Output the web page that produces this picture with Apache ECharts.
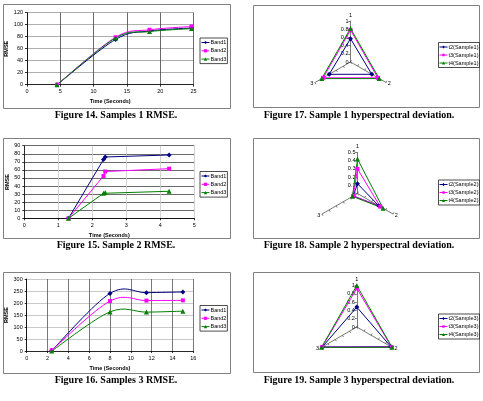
<!DOCTYPE html>
<html><head><meta charset="utf-8">
<script src="https://cdn.jsdelivr.net/npm/echarts@6/dist/echarts.min.js"></script>
<style>html,body{margin:0;padding:0;background:#fff}#c{width:483px;height:401px}</style>
</head><body><div id="c"></div>
<script>
// ---- Line chart data (RMSE) ----
const fig14X = [4.5, 13.3, 18.4, 24.7];
const fig14Band1 = [0, 75.5, 89.5, 94.5];
const fig14Band2 = [0, 79, 91.5, 97];
const fig14Band3 = [0, 78, 88.5, 93.5];

const fig15X = [1.3, 2.33, 2.38, 4.26];
const fig15Band1 = [0, 73, 76, 78.5];
const fig15Band2 = [0, 52.5, 58, 61.5];
const fig15Band3 = [0, 31, 32, 33.5];

const fig16X = [2.4, 8.0, 11.5, 15.0];
const fig16Band1 = [2, 240, 243, 246];
const fig16Band2 = [3, 208, 210, 211];
const fig16Band3 = [0, 163, 162, 166];

const bandNames = ['Band1', 'Band2', 'Band3'];

// ---- Radar data (hyperspectral deviation), categories 1,2,3 ----
const radarCats = ['1', '2', '3'];
const fig17T2 = [0.57, 0.6, 0.6];
const fig17T3 = [0.78, 0.77, 0.77];
const fig17T4 = [0.82, 0.81, 0.81];
const fig18T2 = [0.12, 0.30, 0.06];
const fig18T3 = [0.30, 0.32, 0.06];
const fig18T4 = [0.42, 0.36, 0.07];
const fig19T2 = [0.48, 0.95, 0.96];
const fig19T3 = [0.93, 0.97, 0.97];
const fig19T4 = [1.0, 0.98, 0.98];

const captions = [
  'Figure 14. Samples 1 RMSE.', 'Figure 17. Sample 1 hyperspectral deviation.',
  'Figure 15. Sample 2 RMSE.', 'Figure 18. Sample 2 hyperspectral deviation.',
  'Figure 16. Samples 3 RMSE.', 'Figure 19. Sample 3 hyperspectral deviation.'
];

const colors = ['#000080', '#FF00FF', '#008000'];
const symbols = ['diamond', 'rect', 'triangle'];
const symSizes = [5, 4, 5];
const legendIcons = [
  'path://M0,4.8L24,4.8L24,7.2L0,7.2Z M12,1.5L16.5,6L12,10.5L7.5,6Z',
  'path://M0,4.8L24,4.8L24,7.2L0,7.2Z M8.5,2.5L15.5,2.5L15.5,9.5L8.5,9.5Z',
  'path://M0,4.8L24,4.8L24,7.2L0,7.2Z M12,1.5L16.5,10.5L7.5,10.5Z'
];
const SANS = 'Liberation Sans';
const FS = 5.5;

const lineCharts = [
  {x: fig14X, bands: [fig14Band1, fig14Band2, fig14Band3], xmax: 25, xint: 5, ymax: 120, yint: 20,
   grid: {left: 27, top: 12.7, width: 166.5, height: 72}, vCol: '#444', hCol: '#999', smooth: true, legendTop: 38},
  {x: fig15X, bands: [fig15Band1, fig15Band2, fig15Band3], xmax: 5, xint: 1, ymax: 90, yint: 10,
   grid: {left: 24.3, top: 145.7, width: 170, height: 72.6}, vCol: '#c8c8c8', hCol: '#444', smooth: false, legendTop: 171.5},
  {x: fig16X, bands: [fig16Band1, fig16Band2, fig16Band3], xmax: 16, xint: 2, ymax: 300, yint: 50,
   grid: {left: 26.7, top: 279, width: 166.6, height: 72}, vCol: '#555', hCol: '#bbb', smooth: true, legendTop: 305.5}
];

const radars = [
  {center: [350.5, 62], radius: 41, max: 1, data: [fig17T2, fig17T3, fig17T4], suffix: 'Sample1', legendTop: 42.5},
  {center: [357.5, 193.5], radius: 41, max: 0.5, data: [fig18T2, fig18T3, fig18T4], suffix: 'Sample2', legendTop: 180},
  {center: [356.8, 327], radius: 41.5, max: 1, data: [fig19T2, fig19T3, fig19T4], suffix: 'Sample3', legendTop: 314}
];

const grids = [], xAxes = [], yAxes = [], series = [], legends = [], radarOpts = [];
const axisText = {fontSize: FS, color: '#000', fontFamily: SANS};
const legendBase = {
  orient: 'vertical', itemWidth: 8, itemHeight: 4, itemGap: 2.3, padding: [1.5, 1, 1.5, 1],
  borderColor: '#000', borderWidth: 0.7, backgroundColor: '#fff', selectedMode: false,
  textStyle: {fontSize: FS, fontFamily: SANS, color: '#000', padding: [0, 0, 0, -4]}
};

// Excel-like smoothed line (Catmull-Rom Bezier), positions from the axes via api.coord
function smoothRenderer(xs, ys, color) {
  return function (params, api) {
    if (params.dataIndex !== 0) return null;
    const p = xs.map((xv, k) => api.coord([xv, ys[k]]));
    let d = 'M' + p[0][0] + ',' + p[0][1];
    for (let i = 0; i < p.length - 1; i++) {
      const p0 = p[i - 1] || p[i], p1 = p[i], p2 = p[i + 1], p3 = p[i + 2] || p[i + 1];
      const c1 = [p1[0] + (p2[0] - p0[0]) / 6, p1[1] + (p2[1] - p0[1]) / 6];
      const c2 = [p2[0] - (p3[0] - p1[0]) / 6, p2[1] - (p3[1] - p1[1]) / 6];
      d += ' C' + c1[0] + ',' + c1[1] + ' ' + c2[0] + ',' + c2[1] + ' ' + p2[0] + ',' + p2[1];
    }
    return {type: 'path', shape: {pathData: d}, style: {stroke: color, fill: null, lineWidth: 1}};
  };
}

lineCharts.forEach((lc, i) => {
  grids.push(lc.grid);
  xAxes.push({
    type: 'value', gridIndex: i, min: 0, max: lc.xmax, interval: lc.xint,
    name: 'Time (Seconds)', nameLocation: 'middle', nameGap: 14,
    nameTextStyle: {fontSize: FS, fontWeight: 'bold', fontFamily: SANS, color: '#000'},
    axisLine: {lineStyle: {color: '#000', width: 0.8}},
    axisTick: {show: true, length: 2, lineStyle: {color: '#000', width: 0.8}},
    axisLabel: Object.assign({margin: 4}, axisText),
    splitLine: {show: true, lineStyle: {color: lc.vCol, width: 0.8}}
  });
  yAxes.push({
    type: 'value', gridIndex: i, min: 0, max: lc.ymax, interval: lc.yint,
    name: 'RMSE', nameLocation: 'middle', nameGap: 12.5, nameRotate: 90,
    nameTextStyle: {fontSize: FS, fontWeight: 'bold', fontFamily: SANS, color: '#000'},
    axisLine: {show: true, lineStyle: {color: '#000', width: 0.8}},
    axisTick: {show: true, length: 2, lineStyle: {color: '#000', width: 0.8}},
    axisLabel: Object.assign({margin: 4}, axisText),
    splitLine: {show: true, lineStyle: {color: lc.hCol, width: 0.8}}
  });
  lc.bands.forEach((vals, b) => {
    const pts = lc.x.map((xv, k) => [xv, vals[k]]);
    if (lc.smooth) {
      series.push({
        type: 'custom', coordinateSystem: 'cartesian2d', xAxisIndex: i, yAxisIndex: i,
        data: pts, renderItem: smoothRenderer(lc.x, vals, colors[b]), z: 2 + b, silent: true
      });
    }
    series.push({
      type: 'line', name: bandNames[b], xAxisIndex: i, yAxisIndex: i,
      data: pts, smooth: false, symbol: symbols[b], symbolSize: symSizes[b], showSymbol: true,
      itemStyle: {color: colors[b]},
      lineStyle: {color: colors[b], width: 1, opacity: lc.smooth ? 0 : 1},
      z: 5 + b
    });
  });
  legends.push(Object.assign({}, legendBase, {
    data: bandNames, left: 200, top: lc.legendTop,
    lineStyle: {opacity: 1, width: 1}
  }));
});

// ECharts places indicators counter-clockwise; Excel goes clockwise -> order 1,3,2
const order = [0, 2, 1];
radars.forEach((r, i) => {
  radarOpts.push({
    center: r.center, radius: r.radius, startAngle: 90, splitNumber: 5, shape: 'polygon',
    indicator: order.map(k => ({name: radarCats[k], min: 0, max: r.max, axisLabel: {show: k === 0}})),
    axisName: {color: '#000', fontSize: FS, fontFamily: SANS},
    nameGap: 2,
    axisLine: {lineStyle: {color: '#555', width: 0.8}},
    axisTick: {show: true, length: 2, lineStyle: {color: '#555', width: 0.8}},
    axisLabel: {show: false, fontSize: FS, color: '#000', fontFamily: SANS, margin: 2,
      formatter: v => String(Math.round(v * 100) / 100)},
    splitLine: {show: false}, splitArea: {show: false}
  });
  const names = ['t2', 't3', 't4'].map(t => t + '(' + r.suffix + ')');
  series.push({
    type: 'radar', radarIndex: i,
    data: r.data.map((vals, b) => ({
      name: names[b], value: order.map(k => vals[k]),
      symbol: symbols[b], symbolSize: symSizes[b],
      itemStyle: {color: colors[b]}, lineStyle: {color: colors[b], width: 1}
    }))
  });
  legends.push(Object.assign({}, legendBase, {
    data: names.map((n, b) => ({name: n, icon: legendIcons[b]})),
    left: 438.5, top: r.legendTop, itemGap: 2
  }));
});

// Panel frames and captions
const frames = [
  [3, 4, 227, 104], [253, 5, 226, 102],
  [3, 138, 227, 100], [253, 138, 226, 100],
  [3, 272, 227, 101], [253, 272, 226, 100]
];
const capPos = [[116, 115], [359, 115], [116, 245], [359, 245], [116, 380], [359, 380]];
const graphic = [];
frames.forEach(f => graphic.push({type: 'rect', silent: true, z: -10,
  shape: {x: f[0] + 0.5, y: f[1] + 0.5, width: f[2], height: f[3]},
  style: {fill: '#fff', stroke: '#808080', lineWidth: 1}}));
captions.forEach((c, i) => graphic.push({type: 'text', silent: true, x: capPos[i][0], y: capPos[i][1],
  style: {text: c, fill: '#000', font: 'bold 10px "Liberation Serif"', align: 'center', verticalAlign: 'middle'}}));

const chart = echarts.init(document.getElementById('c'), null, {renderer: 'canvas'});
chart.setOption({
  animation: false,
  backgroundColor: '#fff',
  grid: grids, xAxis: xAxes, yAxis: yAxes, radar: radarOpts,
  legend: legends, series: series, graphic: graphic
});
</script></body></html>
